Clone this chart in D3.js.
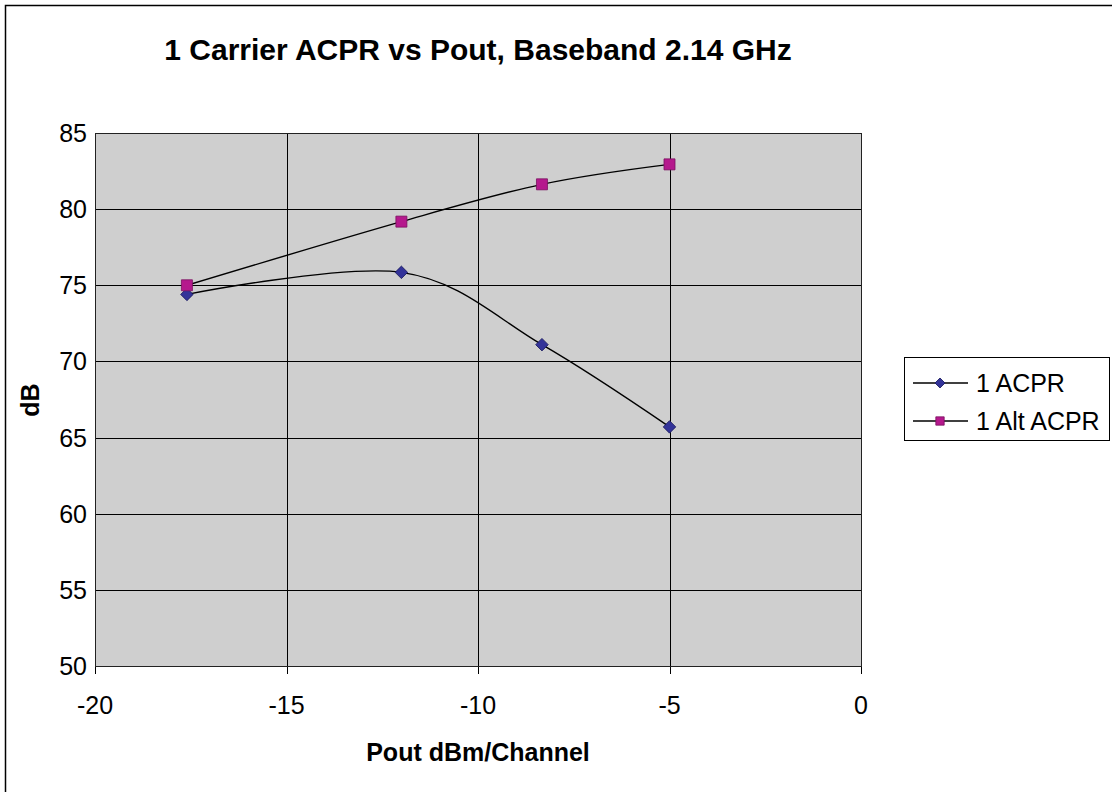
<!DOCTYPE html>
<html>
<head>
<meta charset="utf-8">
<script src="https://cdn.jsdelivr.net/npm/d3@7"></script>
<style>
  body { margin: 0; background: #fff; }
  svg { font-family: "Liberation Sans", Arial, sans-serif; display: block; }
</style>
</head>
<body>
<svg id="chart" width="1112" height="792"></svg>
<script>
// values
const pout = [-17.6, -12.0, -8.33, -5.0];
const acpr = [74.4, 75.85, 71.1, 65.7];
const altAcpr = [75.0, 79.18, 81.63, 82.94];
const seriesNames = ["1 ACPR", "1 Alt ACPR"];
const xTicks = [-20, -15, -10, -5, 0];
const yTicks = [50, 55, 60, 65, 70, 75, 80, 85];

const svg = d3.select("#chart");

const plot = { left: 95, right: 861, top: 133, bottom: 666 };

const x = d3.scaleLinear().domain([-20, 0]).range([plot.left, plot.right]);
const y = d3.scaleLinear().domain([50, 85]).range([plot.bottom, plot.top]);

// outer chart frame (only left/top visible in the picture)
svg.append("rect")
  .attr("x", 5.5).attr("y", 5.5)
  .attr("width", 1300).attr("height", 1000)
  .attr("fill", "#fff")
  .attr("stroke", "#000")
  .attr("stroke-width", 1.5);

// plot background
svg.append("rect")
  .attr("x", plot.left).attr("y", plot.top)
  .attr("width", plot.right - plot.left)
  .attr("height", plot.bottom - plot.top)
  .attr("fill", "#cfcfcf");

// grid
svg.append("g")
  .selectAll("line")
  .data(yTicks)
  .join("line")
  .attr("x1", plot.left).attr("x2", plot.right)
  .attr("y1", d => Math.round(y(d)) + 0.5)
  .attr("y2", d => Math.round(y(d)) + 0.5)
  .attr("stroke", "#000");

svg.append("g")
  .selectAll("line")
  .data(xTicks)
  .join("line")
  .attr("y1", plot.top).attr("y2", plot.bottom + 8)
  .attr("x1", d => Math.round(x(d)) + 0.5)
  .attr("x2", d => Math.round(x(d)) + 0.5)
  .attr("stroke", "#000");

// plot border
svg.append("rect")
  .attr("x", plot.left + 0.5).attr("y", plot.top + 0.5)
  .attr("width", plot.right - plot.left)
  .attr("height", plot.bottom - plot.top)
  .attr("fill", "none")
  .attr("stroke", "#222");

// tick labels
svg.append("g")
  .selectAll("text")
  .data(yTicks)
  .join("text")
  .attr("x", 87)
  .attr("y", d => y(d))
  .attr("dy", "0.36em")
  .attr("text-anchor", "end")
  .attr("font-size", 25)
  .attr("fill", "#000")
  .text(d => d);

svg.append("g")
  .selectAll("text")
  .data(xTicks)
  .join("text")
  .attr("x", d => x(d))
  .attr("y", 714)
  .attr("text-anchor", "middle")
  .attr("font-size", 25)
  .attr("fill", "#000")
  .text(d => d);

// titles
svg.append("text")
  .attr("x", (plot.left + plot.right) / 2)
  .attr("y", 60)
  .attr("text-anchor", "middle")
  .attr("font-size", 30)
  .attr("font-weight", "bold")
  .text("1 Carrier ACPR vs Pout, Baseband 2.14 GHz");

svg.append("text")
  .attr("x", (plot.left + plot.right) / 2)
  .attr("y", 761)
  .attr("text-anchor", "middle")
  .attr("font-size", 25)
  .attr("font-weight", "bold")
  .text("Pout dBm/Channel");

svg.append("text")
  .attr("transform", "translate(39," + 400 + ") rotate(-90)")
  .attr("text-anchor", "middle")
  .attr("font-size", 25)
  .attr("font-weight", "bold")
  .text("dB");

// series: diamond = square turned 45 degrees
const series = [
  { name: seriesNames[0], values: acpr, color: "#333399", stroke: "#1a1a5c", rot: 45, size: 78, legendSize: 50 },
  { name: seriesNames[1], values: altAcpr, color: "#b5198d", stroke: "#7a1060", rot: 0, size: 121, legendSize: 70 }
];

const line = d3.line()
  .x(d => x(d[0]))
  .y(d => y(d[1]))
  .curve(d3.curveCardinal.tension(0));

series.forEach(function (s) {
  const pts = pout.map((p, i) => [p, s.values[i]]);
  svg.append("path")
    .datum(pts)
    .attr("d", line)
    .attr("fill", "none")
    .attr("stroke", "#000")
    .attr("stroke-width", 1.4);

  svg.append("g")
    .selectAll("path")
    .data(pts)
    .join("path")
    .attr("transform", d => "translate(" + x(d[0]) + "," + y(d[1]) + ") rotate(" + s.rot + ")")
    .attr("d", d3.symbol().type(d3.symbolSquare).size(s.size))
    .attr("fill", s.color)
    .attr("stroke", s.stroke)
    .attr("stroke-width", 0.8);
});

// legend
const legend = svg.append("g");
legend.append("rect")
  .attr("x", 904.5).attr("y", 357.5)
  .attr("width", 205).attr("height", 83)
  .attr("fill", "#fff")
  .attr("stroke", "#000");

const rows = [383, 421];
series.forEach(function (s, i) {
  legend.append("line")
    .attr("x1", 913).attr("x2", 968)
    .attr("y1", rows[i]).attr("y2", rows[i])
    .attr("stroke", "#000")
    .attr("stroke-width", 1.4);
  legend.append("path")
    .attr("transform", "translate(940," + rows[i] + ") rotate(" + s.rot + ")")
    .attr("d", d3.symbol().type(d3.symbolSquare).size(s.legendSize))
    .attr("fill", s.color)
    .attr("stroke", s.stroke)
    .attr("stroke-width", 0.8);
  legend.append("text")
    .attr("x", 976)
    .attr("y", rows[i])
    .attr("dy", "0.36em")
    .attr("font-size", 25)
    .text(s.name);
});
</script>
</body>
</html>
